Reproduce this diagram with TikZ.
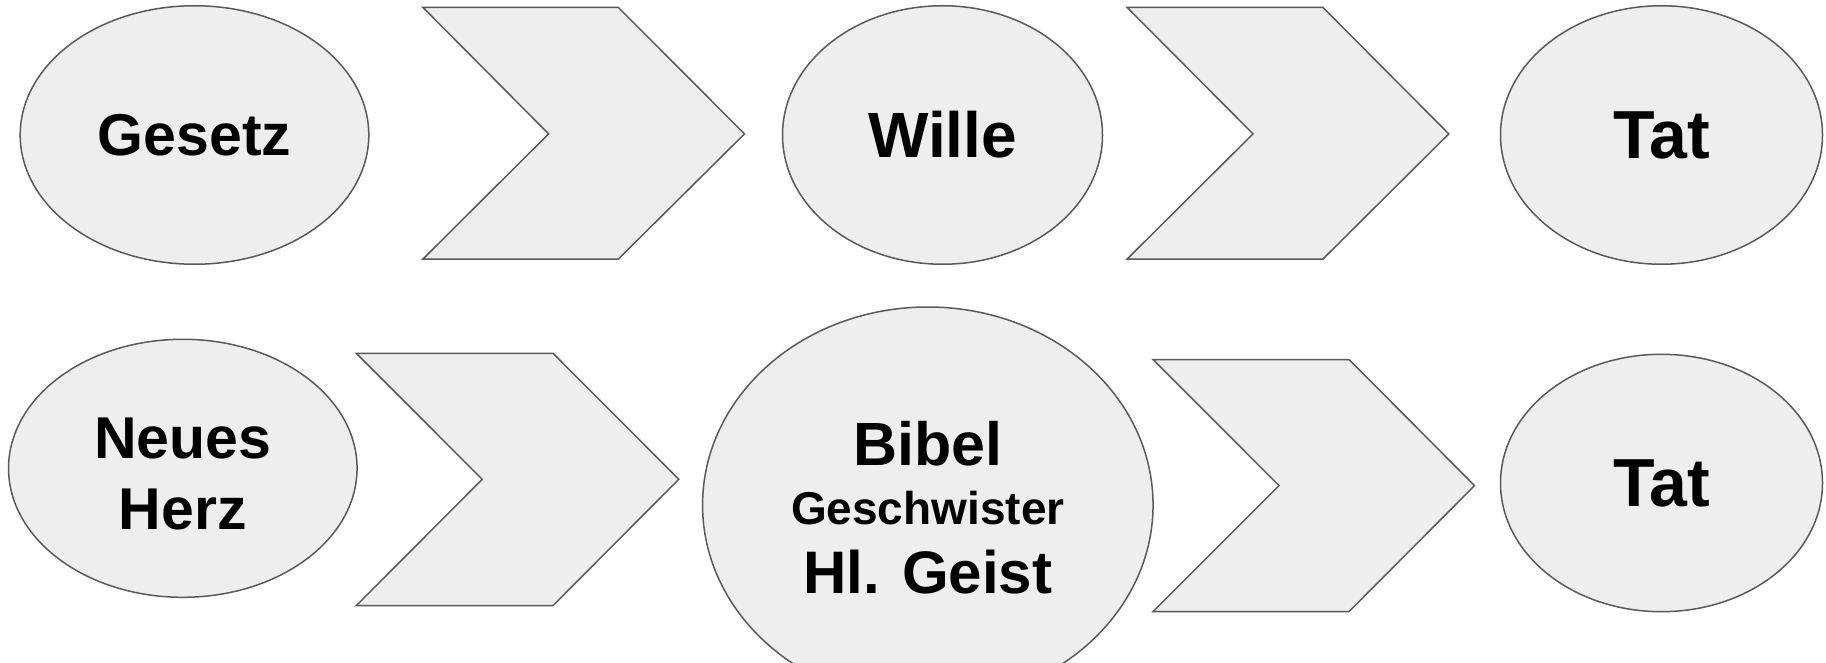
\documentclass[tikz,border=0pt]{standalone}
\usepackage{fontspec}
\setmainfont{Liberation Sans}
\usetikzlibrary{shapes.geometric}
\definecolor{lineg}{HTML}{5A5A5A}
\definecolor{fillg}{HTML}{EEEEEE}
\tikzset{
  oval/.style={ellipse, draw=lineg, fill=fillg, line width=1.5pt, inner sep=0pt, align=center, font=\bfseries},
  chev/.style={draw=lineg, fill=fillg, line width=1.5pt, line join=miter}
}
\begin{document}
\begin{tikzpicture}[x=1pt,y=-1pt]
\useasboundingbox (0,0) rectangle (1826,663);
\clip (0,0) rectangle (1826,663);
\fill[white] (0,0) rectangle (1826,663);
% row 1
\node[oval, minimum width=348.6pt, minimum height=258.5pt, font=\bfseries\fontsize{59}{70}\selectfont] (gesetz) at (194.5,135) {Gesetz};
\draw[chev] (423,7.5) -- (618.4,7.5) -- (744.5,133.9) -- (618.4,259) -- (423,259) -- (548.6,133.9) -- cycle;
\node[oval, minimum width=320pt, minimum height=258.5pt, font=\bfseries\fontsize{64}{76}\selectfont] (wille) at (942.5,135) {Wille};
\draw[chev] (1127.2,7.5) -- (1323,7.5) -- (1448.8,133.9) -- (1323,259) -- (1127.2,259) -- (1253,133.9) -- cycle;
\node[oval, minimum width=322pt, minimum height=258.5pt, font=\bfseries\fontsize{68}{80}\selectfont] (tat1) at (1661.5,135) {Tat};
% row 2
\node[oval, minimum width=348.5pt, minimum height=258pt, font=\bfseries\fontsize{59}{70.5}\selectfont] (herz) at (182.8,468.3) {\rule{0pt}{52pt}Neues\\Herz};
\draw[chev] (356.3,353.3) -- (553,353.3) -- (678.8,479.3) -- (553,605.6) -- (356.3,605.6) -- (482.2,479.3) -- cycle;
\node[oval, minimum width=450.5pt, minimum height=396pt, font=\bfseries\fontsize{46}{59}\selectfont] (bibel) at (927.8,505)
  {\rule{0pt}{49pt}{\fontsize{61}{59}\selectfont Bibel}\\Geschwister\\[10.3pt]{\fontsize{60}{59}\selectfont Hl. Geist}};
\draw[chev] (1153,359.5) -- (1349,359.5) -- (1474.5,485.6) -- (1349,611.6) -- (1153,611.6) -- (1279,485.6) -- cycle;
\node[oval, minimum width=322pt, minimum height=257.4pt, font=\bfseries\fontsize{68}{80}\selectfont] (tat2) at (1661.5,483) {Tat};
\end{tikzpicture}
\end{document}
